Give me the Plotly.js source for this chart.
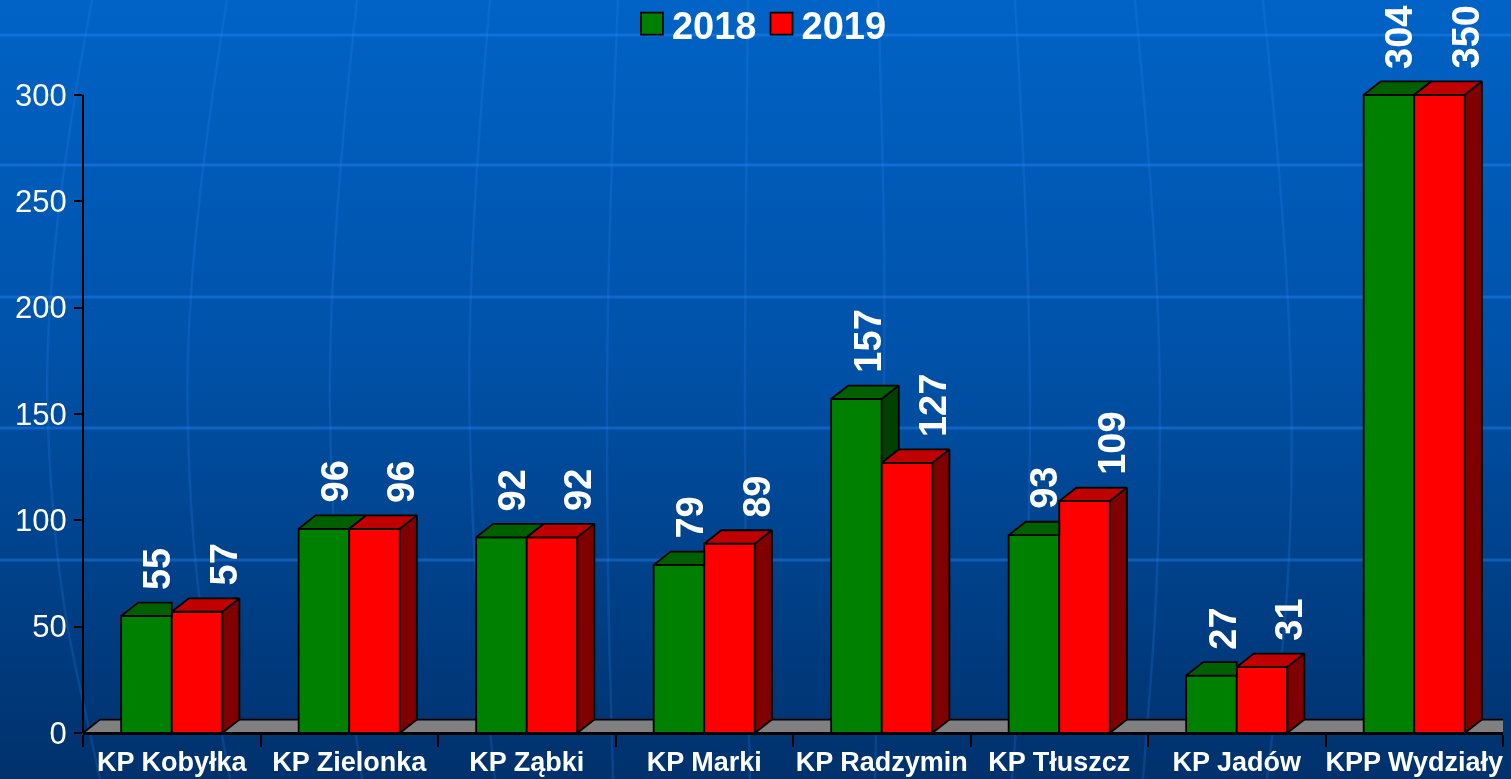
<!DOCTYPE html>
<html><head><meta charset="utf-8">
<script src="https://cdn.plot.ly/plotly-3.0.1.min.js"></script>
<style>
html,body{margin:0;padding:0;overflow:hidden;background:#004a98}
#bg{position:absolute;left:0;top:0}
#chart{position:absolute;left:0;top:0;width:1511px;height:779px}
</style>
</head><body>
<canvas id="bg" width="1511" height="779"></canvas>
<div id="chart"></div>
<script>
// ---- data ----
const categories = ['KP Kobyłka','KP Zielonka','KP Ząbki','KP Marki','KP Radzymin','KP Tłuszcz','KP Jadów','KPP Wydziały'];
const seriesNames = ['2018','2019'];
const values2018 = [55, 96, 92, 79, 157, 93, 27, 304];
const values2019 = [57, 96, 92, 89, 127, 109, 31, 350];
const yTickVals = [0, 50, 100, 150, 200, 250, 300];
const yAxisMax = 300;

// ---- background (slide decoration) ----
(function drawBg(){
  const cv = document.getElementById('bg'), ctx = cv.getContext('2d');
  const W = cv.width, H = cv.height;
  const g = ctx.createLinearGradient(0,0,0,H);
  g.addColorStop(0,'#0063c6'); g.addColorStop(0.45,'#0052a9'); g.addColorStop(1,'#00316c');
  ctx.fillStyle = g; ctx.fillRect(0,0,W,H);
  ctx.strokeStyle = 'rgba(50,145,255,0.18)'; ctx.lineWidth = 2.5;
  const mer = [[92,43,52,100],[227,185,190,230],[357,328,332,362],[490,467,472,495],
               [618,607,607,613],[748,745,745,750],[878,887,880,875],[1015,1030,1030,1012],
               [1135,1160,1160,1143],[1263,1290,1293,1267]];
  const ys = [0,260,560,779];
  mer.forEach(m=>{
    ctx.beginPath(); ctx.moveTo(m[0],ys[0]);
    for(let k=1;k<m.length-1;k++){
      const mx=(m[k]+m[k+1])/2, my=(ys[k]+ys[k+1])/2;
      ctx.quadraticCurveTo(m[k],ys[k],mx,my);
    }
    ctx.lineTo(m[3],ys[3]); ctx.stroke();
  });
  ctx.strokeStyle = 'rgba(40,140,255,0.38)'; ctx.lineWidth = 3;
  [35,165,297,428,560].forEach(y=>{ctx.beginPath();ctx.moveTo(0,y);ctx.lineTo(W,y);ctx.stroke();});
})();

// ---- geometry constants (style) ----
const BARGAP = 0.43;
const BW = (1 - BARGAP) / 2;   // width of one bar in category units
const DX = 0.096, DY = 6.3;    // 3D depth offsets (x in category units, y in value units)
const FONT = 'Liberation Sans, Arial, sans-serif';

const idx = categories.map((_, i) => i);
const clipV = v => Math.min(v, yAxisMax);
const h18 = values2018.map(clipV);
const h19 = values2019.map(clipV);

function polyTrace(polys, color){
  const x = [], y = [];
  polys.forEach(p => {
    p.forEach(pt => { x.push(pt[0]); y.push(pt[1]); });
    x.push(p[0][0]); y.push(p[0][1]);
    x.push(null); y.push(null);
  });
  return {type:'scatter', mode:'lines', x:x, y:y, fill:'toself', fillcolor:color,
          line:{color:'#000', width:1.8}, hoverinfo:'skip', showlegend:false, connectgaps:false};
}

const greenTop = [], greenSide = [], redTop = [], redSide = [];
idx.forEach(i => {
  const g = h18[i], r = h19[i];
  const gl = i - BW, gr = i, rl = i, rr = i + BW;
  if (g >= r) greenTop.push([[gl,g],[gr,g],[gr+DX,g+DY],[gl+DX,g+DY]]);
  else        greenTop.push([[gl,g],[gr,g],[gr,g+DY],[gl+DX,g+DY]]);
  if (g > r)  greenSide.push([[gr,r],[gr+DX,r+DY],[gr+DX,g+DY],[gr,g]]);
  redTop.push([[rl,r],[rr,r],[rr+DX,r+DY],[rl+DX,r+DY]]);
  redSide.push([[rr,0],[rr+DX,DY],[rr+DX,r+DY],[rr,r]]);
});

const traces = [
  {type:'bar', name:seriesNames[0], x:idx, y:h18, customdata:values2018,
   marker:{color:'#008000', line:{color:'#000', width:1.8}}, hovertemplate:'%{customdata}<extra>2018</extra>'},
  {type:'bar', name:seriesNames[1], x:idx, y:h19, customdata:values2019,
   marker:{color:'#ff0000', line:{color:'#000', width:1.8}}, hovertemplate:'%{customdata}<extra>2019</extra>'},
  polyTrace(greenTop, '#006000'),
  polyTrace(greenSide, '#004000'),
  polyTrace(redTop, '#c00000'),
  polyTrace(redSide, '#800000')
];

// data labels
const annotations = [];
const labelDx = [0.06, 0.15];
[values2018, values2019].forEach((vals, s) => {
  vals.forEach((v, i) => {
    const center = s === 0 ? i - BW/2 : i + BW/2;
    annotations.push({x: center + labelDx[s], y: clipV(v), xref:'x', yref:'y',
      text: String(v), textangle: -90, showarrow:false, xanchor:'center', yanchor:'bottom',
      yshift: 24, font:{family:FONT, size:38, color:'#fff', weight:'bold'}});
  });
});

const n = categories.length;
const floorPath = `M ${-0.5},0 L ${n-0.5},0 L ${n-0.5+DX},${DY} L ${-0.5+DX},${DY} Z`;
const boundaries = Array.from({length:n+1}, (_, k) => k - 0.5);

const layout = {
  width:1511, height:779,
  margin:{l:83, r:8, t:31, b:46, autoexpand:false},
  paper_bgcolor:'rgba(0,0,0,0)', plot_bgcolor:'rgba(0,0,0,0)',
  barmode:'group', bargap:BARGAP, bargroupgap:0,
  showlegend:true,
  legend:{orientation:'h', x:0.3866, xanchor:'left', y:1.01, yanchor:'middle',
          font:{family:FONT, size:38, color:'#fff', weight:'bold'}, bgcolor:'rgba(0,0,0,0)', traceorder:'normal'},
  xaxis:{type:'linear', range:[-0.5, n-0.5], tickvals:idx, ticktext:categories, ticks:'',
         showgrid:false, zeroline:false, showline:true, linecolor:'#000', linewidth:2,
         tickfont:{family:FONT, size:27, color:'#fff', weight:'bold'}, ticklabelstandoff:4,
         minor:{tickvals:boundaries, ticks:'outside', ticklen:12, tickwidth:2, tickcolor:'#000', showgrid:false},
         automargin:false, fixedrange:true},
  yaxis:{range:[0, 330], tickvals:yTickVals, ticks:'outside', ticklen:8, tickwidth:2, tickcolor:'#000',
         showgrid:false, zeroline:false, showline:false,
         tickfont:{family:FONT, size:31, color:'#fff'}, ticklabelstandoff:1, automargin:false, fixedrange:true},
  shapes:[
    {type:'path', path:floorPath, xref:'x', yref:'y', fillcolor:'#808080', line:{color:'#000', width:1.8}, layer:'below'},
    {type:'line', xref:'paper', yref:'y', x0:0, x1:0, y0:0, y1:yAxisMax, line:{color:'#000', width:2}}
  ],
  annotations:annotations
};

Plotly.newPlot('chart', traces, layout, {displayModeBar:false, staticPlot:false}).then(() => {
  document.querySelectorAll('#chart .legendpoints path').forEach(p => p.setAttribute('d','M11,11H-11V-11H11Z'));
});
</script>
</body></html>
